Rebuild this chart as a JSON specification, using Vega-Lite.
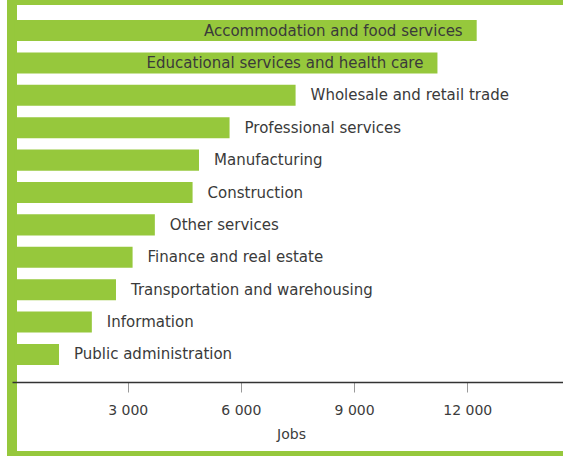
{
  "$schema": "https://vega.github.io/schema/vega-lite/v6.json",
  "width": 558,
  "height": 456,
  "autosize": {"type": "none"},
  "padding": {"left": 12, "top": 0, "right": 0, "bottom": 0},
  "background": "white",
  "config": {
    "view": {"stroke": "#96c83c", "strokeWidth": 10},
    "font": "DejaVu Sans"
  },
  "data": {
    "values": [
      {"sector": "Accommodation and food services", "jobs": 12250},
      {"sector": "Educational services and health care", "jobs": 11210},
      {"sector": "Wholesale and retail trade", "jobs": 7450},
      {"sector": "Professional services", "jobs": 5700},
      {"sector": "Manufacturing", "jobs": 4890},
      {"sector": "Construction", "jobs": 4720},
      {"sector": "Other services", "jobs": 3720},
      {"sector": "Finance and real estate", "jobs": 3130},
      {"sector": "Transportation and warehousing", "jobs": 2690},
      {"sector": "Information", "jobs": 2050},
      {"sector": "Public administration", "jobs": 1180}
    ]
  },
  "encoding": {
    "y": {
      "field": "sector",
      "type": "nominal",
      "sort": null,
      "axis": null,
      "scale": {"range": [3, 382], "paddingInner": 0.35, "paddingOuter": 0.525}
    },
    "x": {
      "field": "jobs",
      "type": "quantitative",
      "scale": {"domain": [-66, 14723], "nice": false, "zero": false},
      "axis": {
        "values": [3000, 6000, 9000, 12000],
        "labelExpr": "replace(format(datum.value, ','), ',', ' ')",
        "offset": -74,
        "grid": false,
        "domainColor": "#333333",
        "domainWidth": 1.5,
        "tickColor": "#999999",
        "tickSize": 10,
        "labelFontSize": 14,
        "labelColor": "#3c3c3c",
        "labelPadding": 11,
        "labelFlush": false,
        "title": "Jobs",
        "titleFontSize": 14,
        "titleFontWeight": "normal",
        "titleColor": "#3c3c3c",
        "titlePadding": 10
      }
    }
  },
  "layer": [
    {"mark": {"type": "bar", "color": "#96c83c"}},
    {
      "transform": [{"filter": "datum.jobs > 10000"}],
      "mark": {"type": "text", "align": "right", "baseline": "middle", "dx": -14, "fontSize": 15, "color": "#3a3a3a"},
      "encoding": {"text": {"field": "sector"}}
    },
    {
      "transform": [{"filter": "datum.jobs <= 10000"}],
      "mark": {"type": "text", "align": "left", "baseline": "middle", "dx": 15, "fontSize": 15, "color": "#3a3a3a"},
      "encoding": {"text": {"field": "sector"}}
    }
  ]
}
